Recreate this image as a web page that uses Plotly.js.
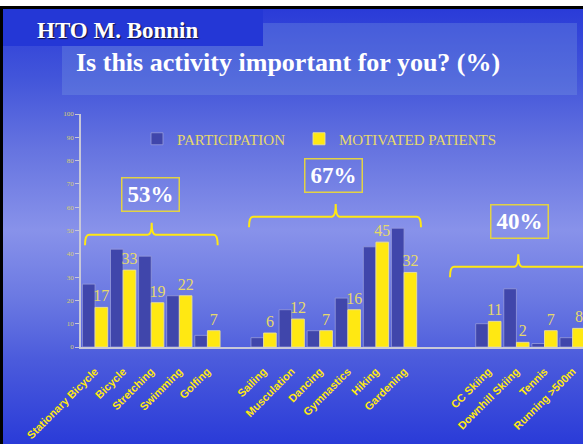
<!DOCTYPE html>
<html>
<head>
<meta charset="utf-8">
<script src="https://cdn.plot.ly/plotly-3.0.1.min.js"></script>
<style>
  html, body { margin: 0; padding: 0; }
  #wrap { position: relative; width: 583px; height: 444px; overflow: hidden;
    background: linear-gradient(to bottom, #ffffff 0px, #ffffff 6px, #000000 6px, #000000 9px,
      #2a3bd8 9px, #4356da 80px, #6674e0 150px, #8892ea 230px, #6a78e2 300px, #4b5bdc 360px, #2a3bd8 444px); }
  .deco { position: absolute; }
  #leftb { left: 0; top: 6px; width: 3px; height: 438px; background: #000; }
  #tbox { left: 62px; top: 23px; width: 515px; height: 72px; background: rgba(125,160,225,0.30); }
  #hbox { left: 3px; top: 9px; width: 260px; height: 37px; background: #2437d6; }
  #chart { position: absolute; left: 0; top: 0; width: 583px; height: 444px; }
</style>
</head>
<body>
<div id="wrap">
  <div class="deco" id="tbox"></div>
  <div class="deco" id="hbox"></div>
  <div class="deco" id="leftb"></div>
  <div id="chart"></div>
</div>
<script>
// ---- data ----
var categories = ["Stationary Bicycle","Bicycle","Stretching","Swimming","Golfing","_gap1",
  "Sailing","Musculation","Dancing","Gymnastics","Hiking","Gardening","_gap2","_gap3",
  "CC Skiing","Downhill Skiing","Tennis","Running >500m"];
var tickLabels = ["Stationary Bicycle","Bicycle","Stretching","Swimming","Golfing",
  "Sailing","Musculation","Dancing","Gymnastics","Hiking","Gardening",
  "CC Skiing","Downhill Skiing","Tennis","Running >500m"];
var participation = [27,42,39,22,5,null,4,16,7,21,43,51,null,null,10,25,1.5,4];
var motivated     = [17,33,19,22,7,null,6,12,7,16,45,32,null,null,11,2,7,8];
var groupLabels = ["53%","67%","40%"];
var yTicks = [0,10,20,30,40,50,60,70,80,90,100];

// ---- layout helpers (pixel -> paper) ----
var ML = 81, MT = 114, MB = 97, W = 583, H = 444;
var PW = W - ML, PH = H - MT - MB;
function px(x){ return (x - ML) / PW; }
function py(y){ return (H - MB - y) / PH; }
function brace(x1, x2, xm, yh, yd, yt){
  var r = 4;
  return 'M' + px(x1) + ',' + py(yd) +
    ' Q' + px(x1) + ',' + py(yh) + ' ' + px(x1 + r) + ',' + py(yh) +
    ' L' + px(xm - r) + ',' + py(yh) +
    ' Q' + px(xm) + ',' + py(yh) + ' ' + px(xm) + ',' + py(yt) +
    ' Q' + px(xm) + ',' + py(yh) + ' ' + px(xm + r) + ',' + py(yh) +
    ' L' + px(x2 - r) + ',' + py(yh) +
    ' Q' + px(x2) + ',' + py(yh) + ' ' + px(x2) + ',' + py(yd);
}

var blue = '#4046ab', yellow = '#ffe812';
var serif = 'Liberation Serif, Times New Roman, serif';
var legendFont = { family: serif, size: 15, color: '#e6d96a' };

var traces = [
  { type: 'bar', name: 'PARTICIPATION', x: categories, y: participation, legend: 'legend',
    marker: { color: blue, line: { color: 'rgba(150,155,220,0.8)', width: 1 } },
    hoverinfo: 'x+y' },
  { type: 'bar', name: 'MOTIVATED PATIENTS', x: categories, y: motivated, legend: 'legend2',
    marker: { color: yellow, line: { color: 'rgba(235,225,150,0.9)', width: 1 } },
    text: motivated.map(function(v){ return v === null ? '' : String(v); }),
    textposition: 'outside', cliponaxis: false, constraintext: 'none',
    textfont: { family: serif, size: 16, color: '#e6d96a' },
    hoverinfo: 'x+y' }
];

var boxPos = [[150.5,194],[333,175.8],[519.5,221.3]];
var annotations = boxPos.map(function(p, i){
  return { text: groupLabels[i], xref: 'paper', yref: 'paper', x: px(p[0]), y: py(p[1]),
    xanchor: 'center', yanchor: 'middle', showarrow: false, width: 56, height: 32,
    bordercolor: '#e2d244', borderwidth: 1.5, borderpad: 0,
    font: { family: serif, size: 23, color: '#ffffff', weight: 'bold' } };
});
annotations.push({ text: 'HTO M. Bonnin', xref: 'paper', yref: 'paper', x: px(35), y: py(31),
  xanchor: 'left', yanchor: 'middle', showarrow: false,
  font: { family: serif, size: 23, color: '#ffffff', weight: 'bold', shadow: '1px 1px 1px #101040' } });

var layout = {
  width: W, height: H,
  margin: { l: ML, r: 0, t: MT, b: MB, pad: 0 },
  paper_bgcolor: 'rgba(0,0,0,0)', plot_bgcolor: 'rgba(0,0,0,0)',
  title: { text: 'Is this activity important for you? (%)', xref: 'container', yref: 'container',
    x: 76 / W, xanchor: 'left', y: 1 - 62 / H, yanchor: 'middle',
    font: { family: serif, size: 26, color: '#ffffff', weight: 'bold' } },
  barmode: 'group', bargap: 0.1, bargroupgap: 0,
  showlegend: true,
  legend: { orientation: 'h', x: px(137), xanchor: 'left', y: py(139), yanchor: 'middle',
    bgcolor: 'rgba(0,0,0,0)', font: legendFont, itemwidth: 30 },
  legend2: { orientation: 'h', x: px(299), xanchor: 'left', y: py(139), yanchor: 'middle',
    bgcolor: 'rgba(0,0,0,0)', font: legendFont, itemwidth: 30 },
  xaxis: { type: 'category', categoryorder: 'array', categoryarray: categories,
    range: [-0.5, 17.37], tickvals: tickLabels, ticktext: tickLabels,
    tickangle: -45, ticks: 'outside', ticklen: 12, tickcolor: 'rgba(0,0,0,0)',
    showgrid: false, zeroline: false,
    showline: true, linecolor: '#c8c8d8', linewidth: 1.5,
    tickfont: { family: 'Liberation Sans, Arial, sans-serif', size: 11, color: '#ffe812', weight: 'bold' } },
  yaxis: { range: [0, 100], tickvals: yTicks, ticks: 'outside', ticklen: 4, tickcolor: '#c8c8d8',
    showgrid: false, zeroline: false, showline: true, linecolor: '#c8c8d8', linewidth: 1.5,
    tickfont: { family: serif, size: 7, color: '#d8cf70' } },
  shapes: [
    { type: 'path', xref: 'paper', yref: 'paper', path: brace(85, 217.7, 151.7, 234.7, 245.3, 222.7),
      line: { color: '#ffe812', width: 2 } },
    { type: 'path', xref: 'paper', yref: 'paper', path: brace(249, 421, 335.7, 216.7, 227.3, 204),
      line: { color: '#ffe812', width: 2 } },
    { type: 'path', xref: 'paper', yref: 'paper', path: brace(450, 640, 518.3, 266.7, 277.3, 254.3),
      line: { color: '#ffe812', width: 2 } }
  ],
  annotations: annotations
};

Plotly.newPlot('chart', traces, layout, { displayModeBar: false });
</script>
</body>
</html>
